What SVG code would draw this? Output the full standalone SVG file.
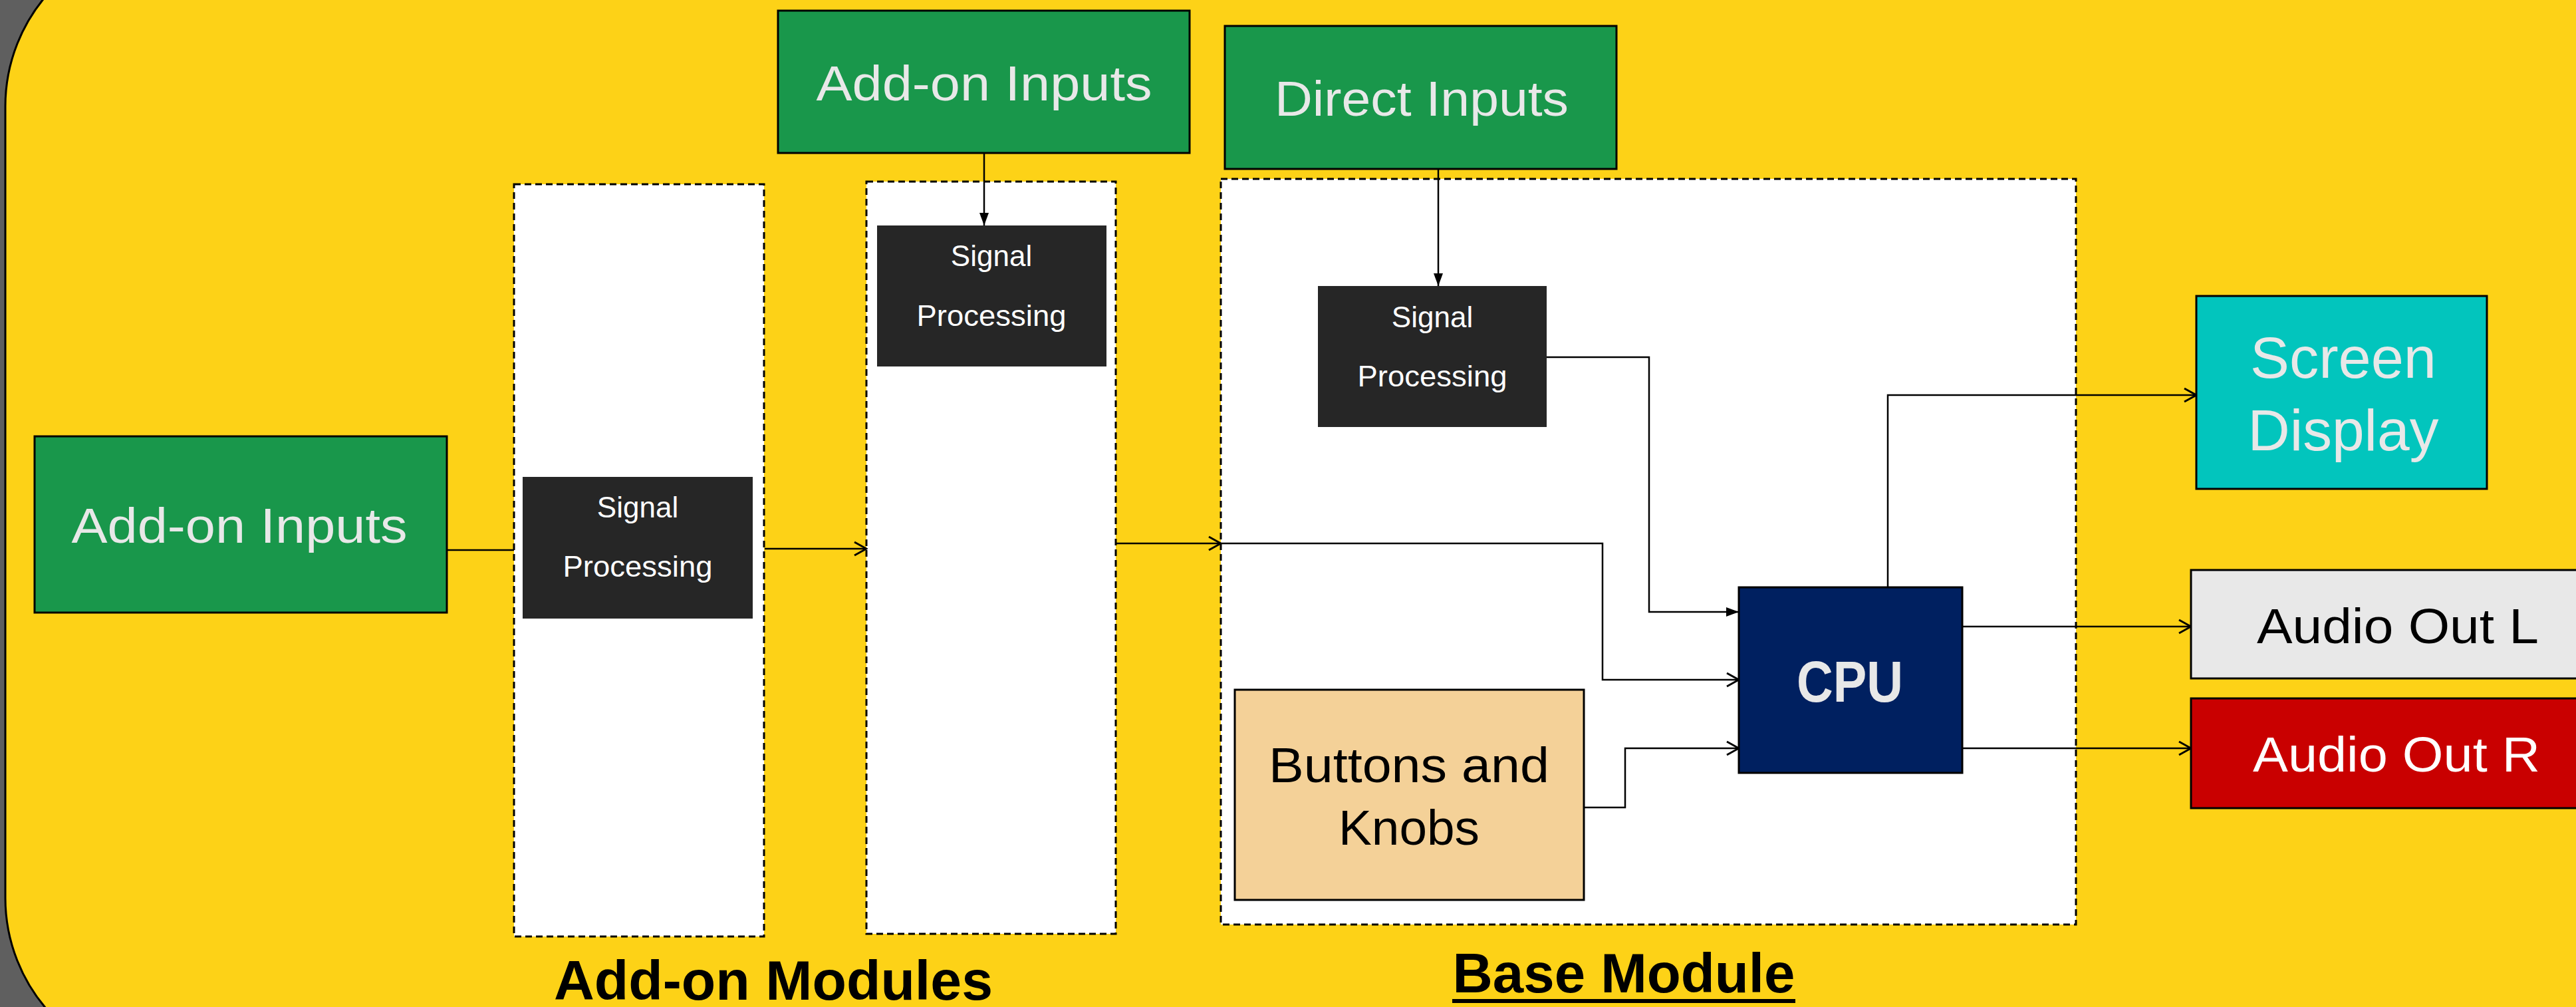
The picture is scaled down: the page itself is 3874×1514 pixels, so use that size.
<svg xmlns="http://www.w3.org/2000/svg" width="3874" height="1514" viewBox="0 0 3874 1514">
<style>
.box{stroke:#000;stroke-width:3}
.dash{fill:#fff;stroke:#000;stroke-width:3;stroke-dasharray:10 6}
.cg{font-family:"Liberation Sans",Arial,sans-serif;text-anchor:middle}
.cal{font-family:"Liberation Sans",Arial,sans-serif;text-anchor:middle;font-size:44px;fill:#fff}
.lbl{font-family:"Liberation Sans",Arial,sans-serif;text-anchor:middle;font-weight:bold;font-size:84px;fill:#000}
.con{fill:none;stroke:#000;stroke-width:2.5}
</style>
<defs>
<marker id="open" markerUnits="userSpaceOnUse" markerWidth="24" markerHeight="26" viewBox="0 0 24 26" refX="22" refY="13" orient="auto">
<path d="M4,3 L22,13 L4,23" fill="none" stroke="#000" stroke-width="3"/>
</marker>
<marker id="fill" markerUnits="userSpaceOnUse" markerWidth="20" markerHeight="18" viewBox="0 0 20 18" refX="19" refY="9" orient="auto">
<path d="M0,2 L19,9 L0,16 Z" fill="#000"/>
</marker>
</defs>
<rect x="0" y="0" width="3874" height="1514" fill="#5f5f5f"/>
<rect id="panel" x="8" y="-96" width="4100" height="1702" rx="256" ry="256" fill="#fdd217" stroke="#000" stroke-width="3"/>

<g id="addon-module-1"><rect class="dash" x="773" y="277" width="376" height="1131"/></g>
<g id="addon-module-2"><rect class="dash" x="1303" y="273" width="375" height="1131"/></g>
<g id="base-module"><rect class="dash" x="1836" y="269" width="1286" height="1121"/></g>

<g id="connectors">
<path class="con" d="M672,827 L773,827"/>
<path class="con" d="M1150,825 L1303,825" marker-end="url(#open)"/>
<path class="con" d="M1480,230 L1480,339" marker-end="url(#fill)"/>
<path class="con" d="M1678,817 L1836,817" marker-end="url(#open)"/>
<path class="con" d="M1836,817 L2410,817 L2410,1022 L2615,1022" marker-end="url(#open)"/>
<path class="con" d="M2163,254 L2163,430" marker-end="url(#fill)"/>
<path class="con" d="M2326,537 L2480,537 L2480,920 L2615,920" marker-end="url(#fill)"/>
<path class="con" d="M2382,1214 L2444,1214 L2444,1125 L2615,1125" marker-end="url(#open)"/>
<path class="con" d="M2839,883 L2839,594 L3303,594" marker-end="url(#open)"/>
<path class="con" d="M2951,942 L3295,942" marker-end="url(#open)"/>
<path class="con" d="M2951,1125 L3295,1125" marker-end="url(#open)"/>
</g>

<g id="addon-inputs-left">
<rect class="box" x="52" y="656" width="620" height="265" fill="#19974b"/>
<text class="cg" x="360" y="816" font-size="74" fill="#e8e8e8" textLength="505" lengthAdjust="spacingAndGlyphs">Add-on Inputs</text>
</g>
<g id="signal-processing-1">
<rect x="786" y="717" width="346" height="213" fill="#262626"/>
<text class="cal" x="959" y="778">Signal</text>
<text class="cal" x="959" y="867" textLength="225" lengthAdjust="spacingAndGlyphs">Processing</text>
</g>
<g id="addon-inputs-top">
<rect class="box" x="1170" y="16" width="619" height="214" fill="#19974b"/>
<text class="cg" x="1480" y="151" font-size="74" fill="#e8e8e8" textLength="505" lengthAdjust="spacingAndGlyphs">Add-on Inputs</text>
</g>
<g id="signal-processing-2">
<rect x="1319" y="339" width="345" height="212" fill="#262626"/>
<text class="cal" x="1491" y="400">Signal</text>
<text class="cal" x="1491" y="490" textLength="225" lengthAdjust="spacingAndGlyphs">Processing</text>
</g>
<g id="direct-inputs">
<rect class="box" x="1842" y="39" width="589" height="215" fill="#19974b"/>
<text class="cg" x="2138" y="174" font-size="74" fill="#e8e8e8" textLength="442" lengthAdjust="spacingAndGlyphs">Direct Inputs</text>
</g>
<g id="signal-processing-3">
<rect x="1982" y="430" width="344" height="212" fill="#262626"/>
<text class="cal" x="2154" y="492">Signal</text>
<text class="cal" x="2154" y="581" textLength="225" lengthAdjust="spacingAndGlyphs">Processing</text>
</g>
<g id="buttons-knobs">
<rect class="box" x="1857" y="1037" width="525" height="316" fill="#f4d198"/>
<text class="cg" x="2119" y="1176" font-size="75" fill="#000" textLength="422" lengthAdjust="spacingAndGlyphs">Buttons and</text>
<text class="cg" x="2119" y="1270" font-size="75" fill="#000" textLength="212" lengthAdjust="spacingAndGlyphs">Knobs</text>
</g>
<g id="cpu">
<rect class="box" x="2615" y="883" width="336" height="279" fill="#002060"/>
<text class="cg" x="2782" y="1055" font-size="88" font-weight="bold" fill="#e8e8e8" textLength="160" lengthAdjust="spacingAndGlyphs">CPU</text>
</g>
<g id="screen-display">
<rect class="box" x="3303" y="445" width="437" height="290" fill="#02c5bd"/>
<text class="cg" x="3524" y="568" font-size="87" fill="#e8e8e8" textLength="280" lengthAdjust="spacingAndGlyphs">Screen</text>
<text class="cg" x="3524" y="677" font-size="87" fill="#e8e8e8" textLength="287" lengthAdjust="spacingAndGlyphs">Display</text>
</g>
<g id="audio-out-l">
<rect class="box" x="3295" y="857" width="600" height="163" fill="#e8e8e8"/>
<text class="cg" x="3606" y="967" font-size="74" fill="#000" textLength="424" lengthAdjust="spacingAndGlyphs">Audio Out L</text>
</g>
<g id="audio-out-r">
<rect class="box" x="3295" y="1050" width="600" height="165" fill="#c90000"/>
<text class="cg" x="3604" y="1160" font-size="74" fill="#fff" textLength="432" lengthAdjust="spacingAndGlyphs">Audio Out R</text>
</g>

<g id="labels">
<text class="lbl" x="1163" y="1503" textLength="660" lengthAdjust="spacingAndGlyphs">Add-on Modules</text>
<text class="lbl" x="2442" y="1492" textLength="515" lengthAdjust="spacingAndGlyphs">Base Module</text>
<rect x="2184" y="1502" width="516" height="6" fill="#000"/>
</g>
</svg>
